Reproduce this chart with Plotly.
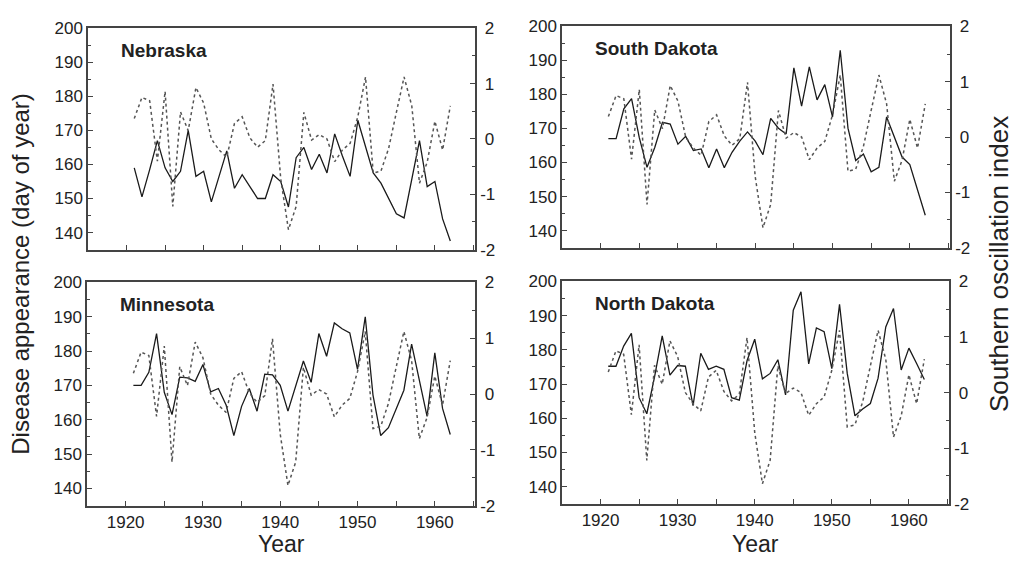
import plotly.graph_objects as go

years = list(range(1921, 1963))

soi = [0.37, 0.75, 0.69, -0.40, 0.86, -1.22, 0.49, 0.15, 0.93, 0.65,
       0.00, -0.20, -0.33, 0.28, 0.40, 0.02, -0.15, -0.03, 0.99, -0.72,
       -1.64, -1.22, 0.48, -0.02, 0.08, 0.00, -0.41, -0.20, -0.08, 0.40,
       1.12, -0.62, -0.58, -0.17, 0.48, 1.12, 0.60, -0.80, -0.42, 0.32,
       -0.20, 0.60]

nebraska = [159, 150.5, 158.5, 167, 159, 155, 158, 170, 156.5, 158,
            149, 156.5, 164, 153, 157, 153.5, 150, 150, 157, 155,
            147.5, 162, 165, 158.5, 163, 157.5, 169, 162.5, 156.5, 173,
            165, 157.5, 154.5, 150, 145.5, 144.3, 156, 167, 153.5, 155,
            144, 137.5]

south_dakota = [167, 167, 175.8, 178.8, 167.3, 158.6, 164.4, 171.8, 171.3, 165.4,
                167.7, 163.5, 164, 158.5, 164, 158.5, 163, 166.3, 169, 166.3,
                162.3, 173, 170.1, 168.4, 187.8, 176.6, 188.1, 178.4, 182.9, 173.4,
                193, 170.1, 160.6, 162.5, 157.3, 158.6, 173.4, 167.3, 161.6, 159.4,
                152.1, 144.5]

minnesota = [170, 170, 173.8, 185.1, 168, 161.5, 172.4, 172.2, 171.2, 176.1,
             168.1, 169.1, 164.3, 155.4, 163.9, 169.1, 162.5, 173.3, 173.1, 170,
             162.5, 169.8, 177.1, 170.9, 185.1, 178.5, 188.2, 186.5, 185.3, 174.7,
             190, 167.2, 155.4, 157.7, 162.9, 168.6, 182, 171.3, 161, 179.5,
             163.3, 155.7]

north_dakota = [175.2, 175.2, 181.1, 184.8, 166, 161.3, 172, 184.1, 172.6, 175.4,
                175.2, 163.7, 179, 174.3, 175.2, 174.3, 166, 165.3, 176.8, 183.1,
                171.5, 173.1, 177.1, 166.8, 191.6, 197, 175.9, 186.4, 185.3, 174.5,
                193.3, 173.1, 160.7, 162.7, 164.3, 171.7, 186.7, 192.1, 174.1, 180.5,
                176, 171.3]

states = ["Nebraska", "South Dakota", "Minnesota", "North Dakota"]
series = [nebraska, south_dakota, minnesota, north_dakota]

left_ticks = [140, 150, 160, 170, 180, 190, 200]
right_ticks = [-2, -1, 0, 1, 2]
right_text = ["-2", "-1", "\u00a00", "\u00a01", "\u00a02"]
x_ticks = [1920, 1930, 1940, 1950, 1960]

W, H = 1013, 561
# panel boxes in pixels: (left, right, top, bottom)
boxes = [(88, 475, 20, 249), (562, 950, 18, 247),
         (87, 475, 283, 514), (562, 949, 282, 512)]

FONT = "Liberation Sans, Arial, sans-serif"
INK = "#222222"
AX = "#444444"

fig = go.Figure()
layout = dict(
    width=W, height=H, margin=dict(l=0, r=0, t=0, b=0),
    paper_bgcolor="white", plot_bgcolor="white", showlegend=False,
    font=dict(family=FONT, color=INK),
)
annotations = []

for i, (name, vals, box) in enumerate(zip(states, series, boxes)):
    k = i + 1
    xa = "x" if k == 1 else f"x{k}"
    yl_id = 2 * k - 1
    yr_id = 2 * k
    yl = "y" if yl_id == 1 else f"y{yl_id}"
    yr = f"y{yr_id}"
    fig.add_trace(go.Scatter(x=years, y=soi, mode="lines", xaxis=xa, yaxis=yr,
                             line=dict(color="#555555", width=1.5, dash="3px,3px"),
                             hoverinfo="skip"))
    fig.add_trace(go.Scatter(x=years, y=vals, mode="lines", xaxis=xa, yaxis=yl,
                             line=dict(color="#1a1a1a", width=1.3),
                             hoverinfo="skip"))
    l, r, t, b = box
    xdom = [l / W, r / W]
    ydom = [1 - b / H, 1 - t / H]
    bottom_row = k >= 3
    layout["xaxis" if k == 1 else f"xaxis{k}"] = dict(
        domain=xdom, anchor=yl, range=[1915, 1965.2],
        tickvals=x_ticks, showticklabels=bottom_row,
        ticks="inside", ticklen=5, tickwidth=1, tickcolor=AX,
        minor=dict(ticks="inside", ticklen=5, dtick=5, tick0=1915, tickcolor=AX),
        showline=True, linecolor=AX, linewidth=1.5, mirror=True,
        showgrid=False, zeroline=False,
        tickfont=dict(size=17, family=FONT, color=INK),
    )
    layout["yaxis" if yl_id == 1 else f"yaxis{yl_id}"] = dict(
        domain=ydom, anchor=xa, range=[135, 200],
        tickvals=left_ticks, ticks="inside", ticklen=5, tickwidth=1, tickcolor=AX,
        minor=dict(ticks="inside", ticklen=3, dtick=5, tick0=135, tickcolor=AX),
        showline=True, linecolor=AX, linewidth=1.5,
        showgrid=False, zeroline=False,
        tickfont=dict(size=17, family=FONT, color=INK),
    )
    layout[f"yaxis{yr_id}"] = dict(
        domain=ydom, anchor=xa, overlaying=yl, side="right", range=[-2, 2],
        tickvals=right_ticks, ticktext=right_text,
        ticks="inside", ticklen=5, tickwidth=1, tickcolor=AX,
        minor=dict(ticks="inside", ticklen=3, dtick=0.5, tick0=-2, tickcolor=AX),
        showline=True, linecolor=AX, linewidth=1.5,
        showgrid=False, zeroline=False,
        tickfont=dict(size=17, family=FONT, color=INK),
    )
    annotations.append(dict(
        text=f"<b>{name}</b>", xref="paper", yref="paper",
        x=(l + 31) / W, y=1 - (t + 23) / H, xanchor="left", yanchor="middle",
        showarrow=False, font=dict(size=19, family=FONT, color=INK)))
    if bottom_row:
        annotations.append(dict(
            text="Year", xref="paper", yref="paper",
            x=(l + r) / 2 / W, y=1 - 554 / H, xanchor="center", yanchor="middle",
            showarrow=False, font=dict(size=23, family=FONT, color=INK)))

annotations.append(dict(
    text="Disease appearance (day of year)", xref="paper", yref="paper",
    x=21 / W, y=1 - 274 / H, xanchor="center", yanchor="middle", textangle=-90,
    showarrow=False, font=dict(size=24, family=FONT, color=INK)))
annotations.append(dict(
    text="Southern oscillation index", xref="paper", yref="paper",
    x=999 / W, y=1 - 264 / H, xanchor="center", yanchor="middle", textangle=-90,
    showarrow=False, font=dict(size=26, family=FONT, color=INK)))

layout["annotations"] = annotations
fig.update_layout(**layout)
fig.write_html("out.html")
